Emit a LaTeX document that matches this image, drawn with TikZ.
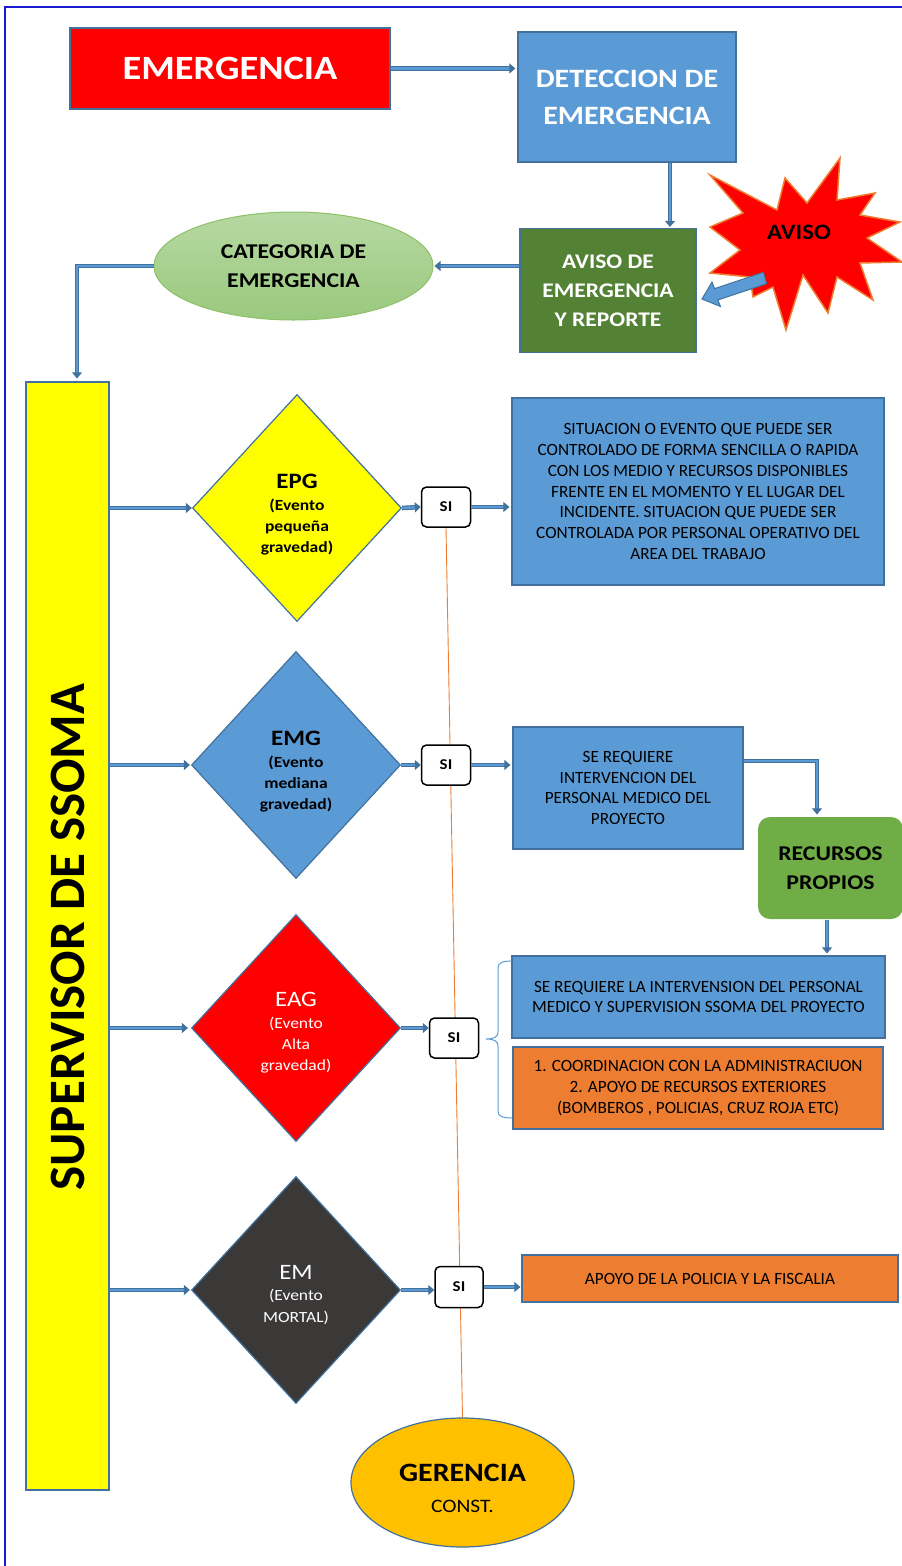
\documentclass[tikz,border=0pt]{standalone}
\usepackage{fontspec}
\setmainfont{Carlito}
\newfontfamily\widef{Carlito}[FakeStretch=1.13]
\usetikzlibrary{shapes.geometric,arrows.meta,backgrounds}
\definecolor{bfill}{HTML}{5B9BD5}
\definecolor{bline}{HTML}{41719C}
\definecolor{dgreen}{HTML}{548235}
\definecolor{mgreen}{HTML}{70AD47}
\definecolor{lgtop}{HTML}{B7D8A2}
\definecolor{lgbot}{HTML}{9AC97E}
\definecolor{lgline}{HTML}{8CC168}
\definecolor{orng}{HTML}{ED7D31}
\definecolor{gold}{HTML}{FFC000}
\definecolor{dgray}{HTML}{3B3838}
\definecolor{framec}{HTML}{1A1AD0}
\definecolor{redc}{HTML}{FF0000}
\definecolor{yel}{HTML}{FFFF00}
\newcommand{\subtxtfont}{\widef\fontsize{15.5}{21.3}\selectfont}
\begin{document}
\begin{tikzpicture}[x=1pt,y=-1pt,
  box/.style={draw=bline, line width=1.2pt, inner sep=0pt, align=center},
  dia/.style={diamond, draw=bline, line width=1.2pt, minimum width=209pt, minimum height=227pt, inner sep=0pt, align=center, font=\subtxtfont},
  sibox/.style={draw=black, line width=1.5pt, rounded corners=5pt, fill=white, minimum width=49pt, minimum height=40pt, inner sep=0pt, font=\widef\bfseries\fontsize{15}{15}\selectfont},
  flow/.style={draw=bline, double=bfill, double distance=2.4pt, line width=1.1pt, -{Triangle[length=6pt,width=10pt]}},
  boxtxt/.style={font=\fontsize{17.2}{20.8}\selectfont}
]
\useasboundingbox (0,0) rectangle (902,1566);
% frame
\draw[framec, line width=1.4pt] (5,1575) -- (5,7) -- (910,7);

% top row
\node[box, fill=redc, minimum width=320pt, minimum height=81pt, text=white, font=\widef\bfseries\fontsize{34}{40}\selectfont] (emerg) at (230,68.5) {EMERGENCIA};
\node[box, fill=bfill, minimum width=218pt, minimum height=130pt, text=white, font=\widef\bfseries\fontsize{26.5}{37}\selectfont] (detec) at (627,97) {DETECCION DE\\EMERGENCIA};
\node[box, fill=dgreen, minimum width=176pt, minimum height=124pt, text=white, font=\widef\bfseries\fontsize{20.8}{29}\selectfont] (avisoe) at (608,290.5) {AVISO DE\\EMERGENCIA\\Y REPORTE};
\node[ellipse, draw=lgline, line width=1pt, top color=lgtop, bottom color=lgbot, minimum width=279pt, minimum height=108pt, inner sep=0pt, align=center, font=\widef\bfseries\fontsize{21}{29}\selectfont] (categ) at (293.5,266) {CATEGORIA DE\\EMERGENCIA};

% star
\filldraw[fill=redc, draw=orng, line width=1.5pt, line join=miter]
 (840,158) -- (837,200) -- (875,193) -- (860,215) -- (900,222) -- (867,238) -- (902,262) -- (860,263) -- (873,300) -- (837,277) -- (828,313) -- (803,275) -- (786,330) -- (773,287) -- (753,297) -- (750,277) -- (710,273) -- (740,250) -- (710,227) -- (743,213) -- (710,175) -- (777,210) -- (785,178) -- (807,203) -- cycle;
\node[font=\widef\bfseries\fontsize{22}{24}\selectfont] (aviso) at (799,232) {AVISO};
% block arrow from star
\filldraw[fill=bfill, draw=bline, line width=1pt, line join=miter]
 (763.4,272.3) -- (714.6,288.6) -- (712.0,282.0) -- (702,299) -- (720.5,306.5) -- (717.8,300) -- (766.6,283.7) -- cycle;

% supervisor bar
\node[box, fill=yel, minimum width=83pt, minimum height=1108pt] (sup) at (67.5,936) {};
\node[rotate=90, font=\bfseries\fontsize{51}{52}\selectfont] (suptext) at (68,937) {SUPERVISOR DE SSOMA};

% diamonds
\node[dia, fill=yel] (epg) at (297,508) {\mbox{}\\[6.7pt]{\bfseries\fontsize{22}{22}\selectfont EPG}\\{\bfseries (Evento}\\{\bfseries pequeña}\\{\bfseries gravedad)}};
\node[dia, fill=bfill] (emg) at (296,765) {\mbox{}\\[6.7pt]{\bfseries\fontsize{22}{22}\selectfont EMG}\\{\bfseries (Evento}\\{\bfseries mediana}\\{\bfseries gravedad)}};
\node[dia, fill=redc, text=white] (eag) at (296,1028) {\mbox{}\\[2.7pt]{\fontsize{22}{22}\selectfont EAG}\\(Evento\\Alta\\gravedad)};
\node[dia, fill=dgray, text=white] (em) at (296,1290) {\mbox{}\\[2.7pt]{\fontsize{22}{22}\selectfont EM}\\(Evento\\MORTAL)};

% SI boxes
\node[sibox] (si1) at (446,507) {SI};
\node[sibox] (si2) at (446,765) {SI};
\node[sibox] (si3) at (454,1038) {SI};
\node[sibox, minimum width=48pt, minimum height=41pt] (si4) at (459,1287) {SI};

% text boxes
\node[box, fill=bfill, minimum width=372pt, minimum height=187pt, boxtxt] (box1) at (698,491.5) {SITUACION O EVENTO QUE PUEDE SER\\CONTROLADO DE FORMA SENCILLA O RAPIDA\\CON LOS MEDIO Y RECURSOS DISPONIBLES\\FRENTE EN EL MOMENTO Y EL LUGAR DEL\\INCIDENTE. SITUACION QUE PUEDE SER\\CONTROLADA POR PERSONAL OPERATIVO DEL\\AREA DEL TRABAJO};
\node[box, fill=bfill, minimum width=230pt, minimum height=122pt, boxtxt] (box2) at (628,788) {SE REQUIERE\\INTERVENCION DEL\\PERSONAL MEDICO DEL\\PROYECTO};
\node[box, fill=mgreen, draw=none, rounded corners=12pt, minimum width=145pt, minimum height=102pt, font=\widef\bfseries\fontsize{21}{29}\selectfont] (recur) at (830.5,868) {RECURSOS\\PROPIOS};
\node[box, fill=bfill, minimum width=373pt, minimum height=82pt, boxtxt] (box3) at (698.5,997) {SE REQUIERE LA INTERVENSION DEL PERSONAL\\MEDICO Y SUPERVISION SSOMA DEL PROYECTO};
\node[box, fill=orng, minimum width=370pt, minimum height=82pt, boxtxt] (box4) at (698,1088) {1. COORDINACION CON LA ADMINISTRACIUON\\2. APOYO DE RECURSOS EXTERIORES\\(BOMBEROS , POLICIAS, CRUZ ROJA ETC)};
\node[box, fill=orng, minimum width=376pt, minimum height=47pt, font=\fontsize{17.2}{18}\selectfont] (box5) at (710,1278.5) {APOYO DE LA POLICIA Y LA FISCALIA};

% gerencia
\node[ellipse, draw=bline, line width=1.2pt, fill=gold, minimum width=223pt, minimum height=129pt, inner sep=0pt, align=center, font=\widef\fontsize{19}{31}\selectfont] (ger) at (462.5,1482.5) {\mbox{}\\[-2pt]{\bfseries\fontsize{26.5}{30}\selectfont GERENCIA}\\CONST.};

% orange line
\begin{scope}[on background layer]
\draw[orng, line width=0.9pt] (si1.south) -- (ger.north);
\end{scope}

% bracket
\draw[bfill, line width=1pt] (512,961) .. controls (502,961) and (498,963) .. (498,968) -- (498,1032) .. controls (498,1037) and (494,1039) .. (486,1039) .. controls (494,1039) and (498,1041) .. (498,1046) -- (498,1111) .. controls (498,1116) and (502,1118) .. (512,1118);

% connectors
\draw[flow] (emerg.east) -- ([xshift=-2pt]detec.west |- emerg.east);
\draw[flow] ([xshift=43pt]detec.south) -- ([xshift=43pt,yshift=1pt]detec.south |- avisoe.north);
\draw[flow] (avisoe.west |- categ.east) -- ([xshift=1pt]categ.east);
\draw[flow] (categ.west) -| ([xshift=9.5pt,yshift=3pt]sup.north);
\draw[flow] (sup.east |- epg.west) -- (epg.west);
\draw[flow] (sup.east |- emg.west) -- ([xshift=-1pt]emg.west);
\draw[flow] (sup.east |- eag.west) -- ([xshift=-3pt]eag.west);
\draw[flow] (sup.east |- em.west) -- ([xshift=-1pt]em.west);
\draw[flow] (epg.east) -- (si1.west);
\draw[flow] (emg.east) -- (si2.west);
\draw[flow] (eag.east) -- (si3.west |- eag.east);
\draw[flow] (em.east) -- (si4.west |- em.east);
\draw[flow] (si1.east) -- ([xshift=-2pt]box1.west |- si1.east);
\draw[flow] (si2.east) -- ([xshift=-2pt]box2.west |- si2.east);
\draw[flow] (si4.east) -- ([xshift=-1pt]box5.west |- si4.east);
\draw[flow] ([yshift=27pt]box2.east) -| ([xshift=-13.5pt,yshift=2pt]recur.north);
\draw[flow] ([xshift=-3.5pt]recur.south) -- ([xshift=-3.5pt,yshift=2pt]recur.south |- box3.north);
\end{tikzpicture}
\end{document}
